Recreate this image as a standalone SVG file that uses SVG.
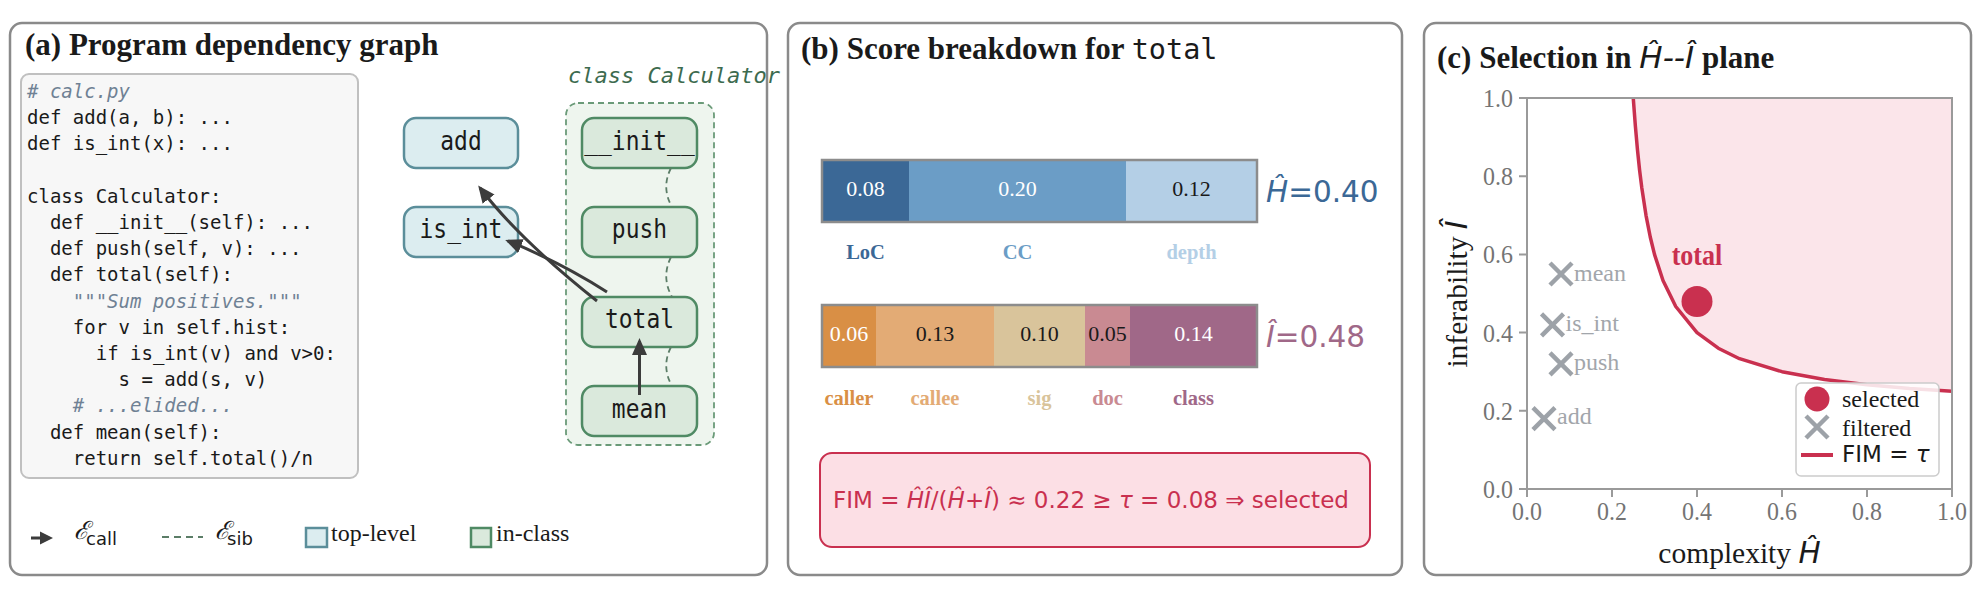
<svg xmlns="http://www.w3.org/2000/svg" width="1985" height="605" viewBox="0 0 1985 605">
<defs>
<style>
.panel{fill:#fff;stroke:#8a8a8a;stroke-width:2.5}
.title{font-family:"Liberation Serif",serif;font-weight:bold;font-size:31px;fill:#1a1a1a}
.code{font-family:"DejaVu Sans Mono",monospace;font-size:19px;fill:#1a1a1a}
.cmt{font-style:italic;fill:#6f8194}
.tl rect{fill:#dcedf0;stroke:#5b8e9a;stroke-width:2.5}
.ic rect{fill:#dae9dc;stroke:#4f8a64;stroke-width:2.5}
.nl{font-family:"DejaVu Sans Mono",monospace;font-size:27px;fill:#1a1a1a;text-anchor:middle}
.call{fill:none;stroke:#3c3c3c;stroke-width:3}
.sib{fill:none;stroke:#5b7d67;stroke-width:1.8;stroke-dasharray:6 4}
.serif{font-family:"Liberation Serif",serif}
.sans{font-family:"DejaVu Sans",sans-serif}
.val{font-family:"Liberation Serif",serif;font-size:22px;text-anchor:middle}
.lab{font-family:"Liberation Serif",serif;font-size:20.5px;font-weight:bold;text-anchor:middle}
.bar{stroke:none}
.tick{font-family:"Liberation Serif",serif;font-size:26px;fill:#747474}
.pt{font-family:"Liberation Serif",serif;font-size:24px;fill:#a2a6ab}
.xm{stroke:#9da2a8;stroke-width:4.5;fill:none}
</style>
<marker id="ah" markerUnits="userSpaceOnUse" markerWidth="18" markerHeight="16" refX="14" refY="8" orient="auto" viewBox="0 0 18 16">
<path d="M0,0.5 L17,8 L0,15.5 z" fill="#3c3c3c"/>
</marker>
</defs>
<rect width="1985" height="605" fill="#fff"/>

<!-- Panel (a) -->
<g id="panel-a">
<rect class="panel" x="10" y="23" width="757" height="552" rx="12"/>
<text class="title" x="25" y="55">(a) Program dependency graph</text>
<g id="code">
<rect x="21" y="74" width="337" height="404" rx="8" fill="#f7f7f7" stroke="#c0c0c0" stroke-width="2"/>
<text class="code cmt" x="27" y="98"># calc.py</text>
<text class="code" x="27" y="124.2">def add(a, b): ...</text>
<text class="code" x="27" y="150.4">def is_int(x): ...</text>
<text class="code" x="27" y="202.8">class Calculator:</text>
<text class="code" x="49.9" y="229">def __init__(self): ...</text>
<text class="code" x="49.9" y="255.2">def push(self, v): ...</text>
<text class="code" x="49.9" y="281.4">def total(self):</text>
<text class="code cmt" x="72.8" y="307.6">"""Sum positives."""</text>
<text class="code" x="72.8" y="333.8">for v in self.hist:</text>
<text class="code" x="95.7" y="360">if is_int(v) and v&gt;0:</text>
<text class="code" x="118.6" y="386.2">s = add(s, v)</text>
<text class="code cmt" x="72.8" y="412.4"># ...elided...</text>
<text class="code" x="49.9" y="438.6">def mean(self):</text>
<text class="code" x="72.8" y="464.8">return self.total()/n</text>
</g>
<g id="class-Calculator">
<rect x="566" y="103" width="148" height="342" rx="12" fill="#eef5ee" stroke="#6a9a78" stroke-width="1.8" stroke-dasharray="6 4"/>
<text x="568" y="83" font-family="DejaVu Sans Mono, monospace" font-style="italic" font-size="22" fill="#3d6b4f">class Calculator</text>
</g>
</g>

<g id="node-add" class="tl"><rect x="404" y="118" width="114" height="50" rx="12"/><text class="nl" transform="matrix(0.85,0,0,1,69.15,0)" x="461" y="150">add</text></g>
<g id="node-is_int" class="tl"><rect x="404" y="207" width="114" height="50" rx="12"/><text class="nl" transform="matrix(0.85,0,0,1,69.15,0)" x="461" y="238.5">is_int</text></g>
<g id="node-init" class="ic"><rect x="582" y="118" width="115" height="50" rx="12"/><text class="nl" transform="matrix(0.85,0,0,1,95.925,0)" x="639.5" y="150">__init__</text></g>
<g id="node-push" class="ic"><rect x="582" y="207" width="115" height="50" rx="12"/><text class="nl" transform="matrix(0.85,0,0,1,95.925,0)" x="639.5" y="238.5">push</text></g>
<g id="node-total" class="ic"><rect x="582" y="297" width="115" height="50" rx="12"/><text class="nl" transform="matrix(0.85,0,0,1,95.925,0)" x="639.5" y="328">total</text></g>
<g id="node-mean" class="ic"><rect x="582" y="386" width="115" height="50" rx="12"/><text class="nl" transform="matrix(0.85,0,0,1,95.925,0)" x="639.5" y="418">mean</text></g>

<g id="connectors">
<path class="sib" d="M671,168 Q661,187.5 672,207"/>
<path class="sib" d="M671,257 Q661,277 672,297"/>
<path class="sib" d="M671,347 Q661,366.5 672,386"/>
<path class="call" d="M597,301 Q520,240 480,188" marker-end="url(#ah)"/>
<path class="call" d="M607,292 Q560,262 508,241" marker-end="url(#ah)"/>
<path class="call" d="M639.5,395 L639.5,341" marker-end="url(#ah)"/>
</g>

<g id="legend-a">
<path d="M31,538 H42" stroke="#3c3c3c" stroke-width="3"/>
<path d="M40,531.5 L53,538 L40,544.5 Z" fill="#3c3c3c"/>
<text x="74" y="539" font-family="DejaVu Serif, serif" font-style="italic" font-size="25" fill="#1a1a1a">ℰ</text>
<text class="sans" x="86" y="545" font-size="18" fill="#1a1a1a">call</text>
<path d="M162,537 H203" stroke="#5b7d67" stroke-width="2" stroke-dasharray="7 5"/>
<text x="215" y="539" font-family="DejaVu Serif, serif" font-style="italic" font-size="25" fill="#1a1a1a">ℰ</text>
<text class="sans" x="227" y="545" font-size="18" fill="#1a1a1a">sib</text>
<g class="tl"><rect x="306" y="528" width="21" height="19"/></g>
<text class="serif" x="331" y="541" font-size="24" fill="#1a1a1a">top-level</text>
<g class="ic"><rect x="471" y="528" width="20" height="19"/></g>
<text class="serif" x="496" y="541" font-size="24" fill="#1a1a1a">in-class</text>
</g>

<!-- Panel (b) -->
<g id="panel-b">
<rect class="panel" x="788" y="23" width="614" height="552" rx="12"/>
<text class="title" x="801" y="59">(b) Score breakdown for <tspan font-family="DejaVu Sans Mono, monospace" font-weight="normal" font-size="28.5">total</tspan></text>
<g id="bar-H">
<rect class="bar" x="822" y="160" width="87" height="62" fill="#3b6896"/>
<rect class="bar" x="909" y="160" width="217" height="62" fill="#6b9dc6"/>
<rect class="bar" x="1126" y="160" width="131" height="62" fill="#b4cfe6"/>
<rect x="822" y="160" width="435" height="62" fill="none" stroke="#8c8c8c" stroke-width="2.5"/>
<text class="val" x="865.5" y="196" fill="#fff">0.08</text>
<text class="val" x="1017.5" y="196" fill="#fff">0.20</text>
<text class="val" x="1191.5" y="196" fill="#1a1a1a">0.12</text>
<text class="lab" x="865.5" y="259" fill="#3b6896">LoC</text>
<text class="lab" x="1017.5" y="259" fill="#6b9dc6">CC</text>
<text class="lab" x="1191.5" y="259" fill="#b4cfe6">depth</text>
<text class="sans" x="1266" y="202" font-size="29.5" fill="#3b6896"><tspan font-style="italic">Ĥ</tspan>=0.40</text>
</g>
<g id="bar-I">
<rect class="bar" x="822" y="305" width="54" height="62" fill="#d98f45"/>
<rect class="bar" x="876" y="305" width="118" height="62" fill="#e3ab75"/>
<rect class="bar" x="994" y="305" width="91" height="62" fill="#d9c49b"/>
<rect class="bar" x="1085" y="305" width="45" height="62" fill="#c98a92"/>
<rect class="bar" x="1130" y="305" width="127" height="62" fill="#a06888"/>
<rect x="822" y="305" width="435" height="62" fill="none" stroke="#8c8c8c" stroke-width="2.5"/>
<text class="val" x="849" y="341" fill="#fff">0.06</text>
<text class="val" x="935" y="341" fill="#1a1a1a">0.13</text>
<text class="val" x="1039.5" y="341" fill="#1a1a1a">0.10</text>
<text class="val" x="1107.5" y="341" fill="#1a1a1a">0.05</text>
<text class="val" x="1193.5" y="341" fill="#fff">0.14</text>
<text class="lab" x="849" y="405" fill="#d98f45">caller</text>
<text class="lab" x="935" y="405" fill="#e3ab75">callee</text>
<text class="lab" x="1039.5" y="405" fill="#d9c49b">sig</text>
<text class="lab" x="1107.5" y="405" fill="#c98a92">doc</text>
<text class="lab" x="1193.5" y="405" fill="#a06888">class</text>
<text class="sans" x="1266" y="347" font-size="29.5" fill="#a06888"><tspan font-style="italic">Î</tspan>=0.48</text>
</g>
<g id="fim-box">
<rect x="820" y="453" width="550" height="94" rx="12" fill="#fcdfe5" stroke="#c9304f" stroke-width="2"/>
<text class="sans" x="833" y="508" font-size="23" fill="#c9304f">FIM = <tspan font-style="italic">ĤÎ</tspan>/(<tspan font-style="italic">Ĥ</tspan>+<tspan font-style="italic">Î</tspan>) ≈ 0.22 ≥ <tspan font-style="italic">τ</tspan> = 0.08 ⇒ selected</text>
</g>
</g>

<!-- Panel (c) -->
<g id="panel-c">
<rect class="panel" x="1424" y="23" width="547" height="552" rx="12"/>
<text class="title" x="1437" y="68">(c) Selection in <tspan font-family="DejaVu Sans, sans-serif" font-weight="normal" font-style="italic">Ĥ--Î</tspan> plane</text>
<path d="M1633.25,98 L1635.4,126.4 L1637.5,150.1 L1639.6,170.2 L1641.75,187.4 L1646,215.3 L1650.25,237 L1654.5,254.4 L1663,280.5 L1675.75,306.5 L1697,332.6 L1718.25,348.2 L1739.5,358.7 L1782,371.7 L1824.5,379.5 L1867,384.7 L1909.5,388.5 L1952,391.25 L1952,98 Z" fill="#fbe5ea"/>
<path d="M1633.25,98 L1635.4,126.4 L1637.5,150.1 L1639.6,170.2 L1641.75,187.4 L1646,215.3 L1650.25,237 L1654.5,254.4 L1663,280.5 L1675.75,306.5 L1697,332.6 L1718.25,348.2 L1739.5,358.7 L1782,371.7 L1824.5,379.5 L1867,384.7 L1909.5,388.5 L1952,391.25" fill="none" stroke="#c9304f" stroke-width="3.5" stroke-linejoin="round"/>
<rect x="1527" y="98" width="425" height="391" fill="none" stroke="#9a9a9a" stroke-width="2"/>
<g stroke="#9a9a9a" stroke-width="2">
<path d="M1519,98 H1527 M1519,176.2 H1527 M1519,254.4 H1527 M1519,332.6 H1527 M1519,410.8 H1527 M1519,489 H1527"/>
<path d="M1527,489 V497 M1612,489 V497 M1697,489 V497 M1782,489 V497 M1867,489 V497 M1952,489 V497"/>
</g>
<g class="tick" text-anchor="end" transform="matrix(0.92,0,0,1,121.04,0)">
<text x="1513" y="107">1.0</text>
<text x="1513" y="185.2">0.8</text>
<text x="1513" y="263.4">0.6</text>
<text x="1513" y="341.6">0.4</text>
<text x="1513" y="419.8">0.2</text>
<text x="1513" y="498">0.0</text>
</g>
<g class="tick" text-anchor="middle">
<text transform="matrix(0.92,0,0,1,122.16,0)" x="1527" y="520">0.0</text>
<text transform="matrix(0.92,0,0,1,128.96,0)" x="1612" y="520">0.2</text>
<text transform="matrix(0.92,0,0,1,135.76,0)" x="1697" y="520">0.4</text>
<text transform="matrix(0.92,0,0,1,142.56,0)" x="1782" y="520">0.6</text>
<text transform="matrix(0.92,0,0,1,149.36,0)" x="1867" y="520">0.8</text>
<text transform="matrix(0.92,0,0,1,156.16,0)" x="1952" y="520">1.0</text>
</g>
<text class="serif" x="1739.5" y="563" font-size="29.5" fill="#1a1a1a" text-anchor="middle">complexity <tspan font-family="DejaVu Sans, sans-serif" font-style="italic">Ĥ</tspan></text>
<text class="serif" transform="translate(1467,294) rotate(-90)" x="0" y="0" font-size="29.5" fill="#1a1a1a" text-anchor="middle">inferability <tspan font-family="DejaVu Sans, sans-serif" font-style="italic">Î</tspan></text>
<g id="pt-mean"><path class="xm" d="M1550,263 L1572,285 M1572,263 L1550,285"/><text class="pt" x="1574" y="281">mean</text></g>
<g id="pt-is_int"><path class="xm" d="M1541.5,313.8 L1563.5,335.8 M1563.5,313.8 L1541.5,335.8"/><text class="pt" x="1565.5" y="331">is_int</text></g>
<g id="pt-push"><path class="xm" d="M1550,352.9 L1572,374.9 M1572,352.9 L1550,374.9"/><text class="pt" x="1574" y="370">push</text></g>
<g id="pt-add"><path class="xm" d="M1533,407.6 L1555,429.6 M1555,407.6 L1533,429.6"/><text class="pt" x="1557" y="424">add</text></g>
<g id="pt-total"><circle cx="1697" cy="301.5" r="15.5" fill="#c9304f"/><text class="serif" transform="matrix(0.9,0,0,1,169.7,0)" x="1697" y="265" font-size="29" font-weight="bold" fill="#c9304f" text-anchor="middle">total</text></g>
<g id="legend-c">
<rect x="1796" y="383" width="143" height="93" rx="5" fill="#fff" fill-opacity="0.85" stroke="#cccccc" stroke-width="1.5"/>
<circle cx="1817" cy="399" r="12.5" fill="#c9304f"/>
<text class="serif" x="1842" y="407" font-size="24" fill="#1a1a1a">selected</text>
<path class="xm" d="M1806,416 L1828,438 M1828,416 L1806,438"/>
<text class="serif" x="1842" y="436" font-size="24" fill="#1a1a1a">filtered</text>
<path d="M1801,455 H1833" stroke="#c9304f" stroke-width="4"/>
<text class="sans" x="1842" y="462" font-size="23" fill="#1a1a1a">FIM = <tspan font-style="italic">τ</tspan></text>
</g>
</g>
</svg>
